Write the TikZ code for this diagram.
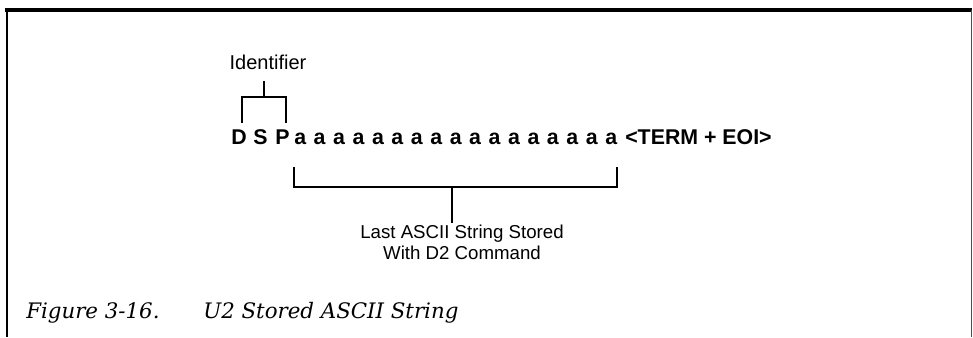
\documentclass[tikz,border=0pt]{standalone}
\usepackage{fontspec}
\setmainfont{Liberation Sans}
\newfontfamily\capfont{DejaVu Serif}
\usetikzlibrary{calc, positioning}

\tikzset{
  brk/.style={line width=1.8pt, line cap=rect},
  strchar/.style={anchor=base west, inner sep=0pt, font=\fontsize{16}{18}\selectfont\bfseries},
  note/.style={align=center, inner sep=2pt, font=\fontsize{14}{16}\selectfont},
  figcap/.style={anchor=base west, inner sep=0pt, font=\capfont\itshape\fontsize{16}{19}\selectfont}
}

\begin{document}
\begin{tikzpicture}[x=0.75pt, y=-0.75pt]
  \useasboundingbox (0,0) rectangle (973,337);
  % frame: heavy top, left rule, thin right rule
  \draw[line width=2.4pt] (5,10) -- (972,10);
  \draw[line width=1.5pt] (7,9) -- (7,337);
  \draw[line width=0.6pt, black!70] (971,10) -- (971,337);

  % the stored string, one character at a time
  \foreach \c [count=\i] in {D,S,P} {
    \node[strchar] (id\i) at ({231+(\i-1)*22},144) {\c};
  }
  \foreach \i in {1,...,17} {
    \node[strchar] (c\i) at ({294+(\i-1)*19.44},144) {a};
  }
  \node[strchar] (term) at (625,144) {<TERM + EOI>};

  \node[note, font=\fontsize{15}{17}\selectfont] (ident) at (268,62) {Identifier};
  \node[note] (last) at (462,242) {Last ASCII String Stored\\With D2 Command};

  % brackets
  \coordinate (idL) at (242,122);
  \coordinate (idR) at (286,122);
  \coordinate (idTop) at (264,97);
  \draw[brk] (idL) |- (idTop) -| (idR);
  \draw[brk] (idTop) -- ++(0,-15);

  \coordinate (stL) at (294,168);
  \coordinate (stR) at (617,168);
  \coordinate (stMid) at (452,187);
  \draw[brk] (stL) |- (stMid) -| (stR);
  \draw[brk] (stMid) -- (stMid |- last.north);

  \node[figcap] (fignum) at (26,318) {Figure 3-16.};
  \node[figcap] (figtitle) at (203,318) {U2 Stored ASCII String};
\end{tikzpicture}
\end{document}
